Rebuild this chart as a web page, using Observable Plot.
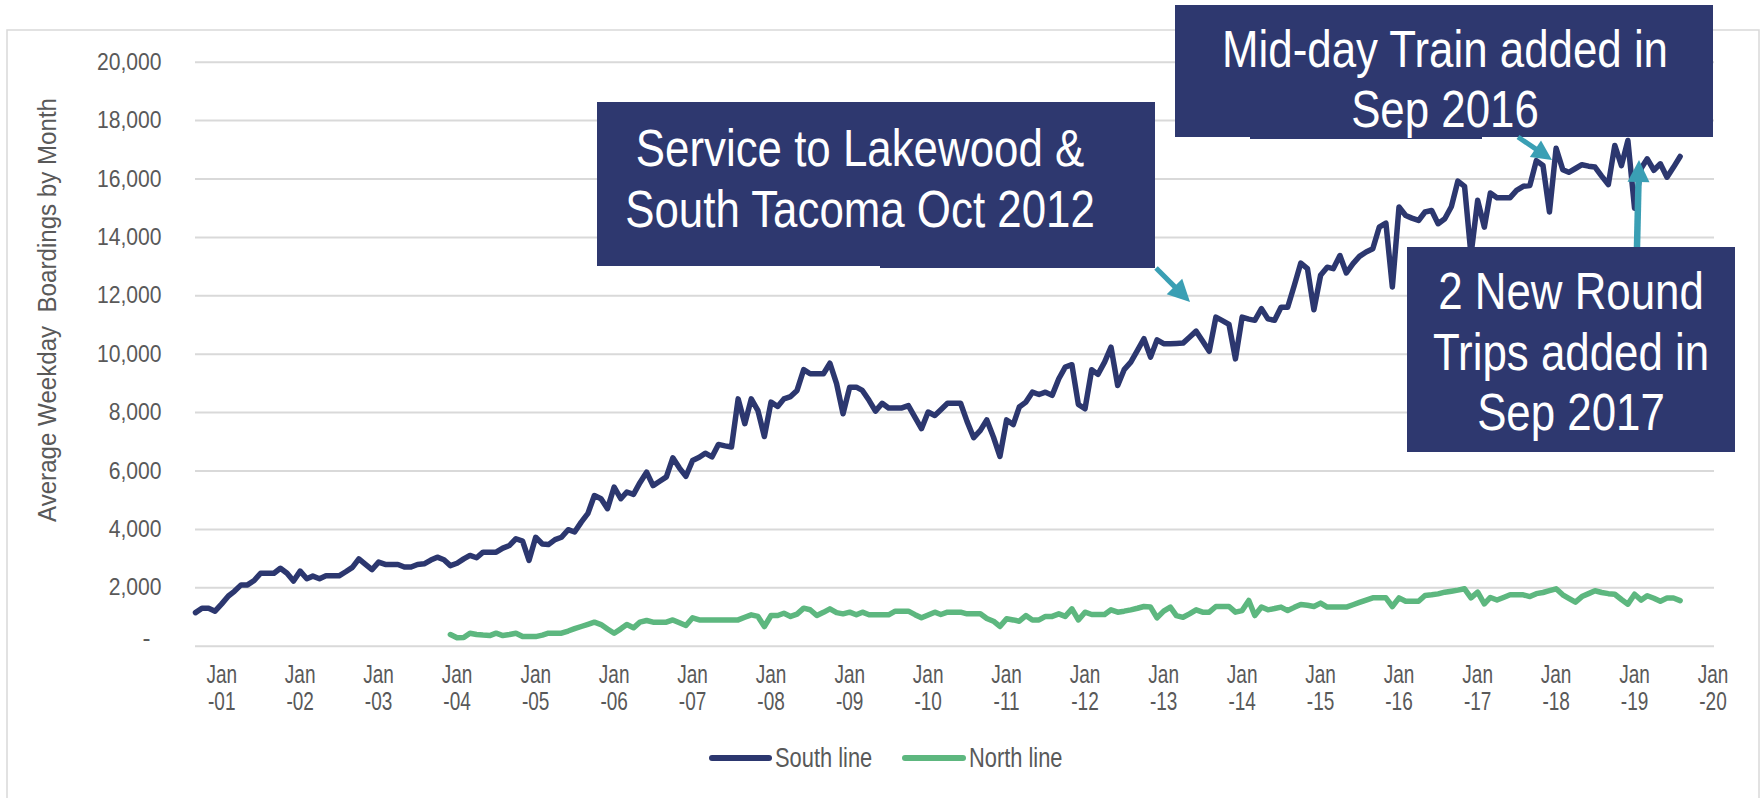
<!DOCTYPE html>
<html>
<head>
<meta charset="utf-8">
<script src="https://cdn.jsdelivr.net/npm/d3@7"></script>
<script src="https://cdn.jsdelivr.net/npm/@observablehq/plot@0.6"></script>
<style>
html, body { margin: 0; padding: 0; background: #ffffff; overflow: hidden; }
#chart svg { display: block; }
</style>
</head>
<body>
<div id="chart"></div>
<script>
// ---------------- DATA ----------------
// Average weekday boardings by month, South line (first month: Sep 2000)
const southStart = [2000, 8];
const southValues = [
  1150, 1300, 1300, 1200,
  1450, 1720, 1880, 2100, 2100, 2250, 2500, 2500, 2500, 2670, 2500, 2230,
  2570, 2310, 2400, 2310, 2410, 2410, 2410, 2550, 2700, 2990, 2800, 2620,
  2880, 2800, 2800, 2800, 2710, 2710, 2800, 2820, 2950, 3050, 2960, 2760,
  2840, 2990, 3110, 3030, 3220, 3220, 3220, 3360, 3450, 3680, 3600, 2940,
  3730, 3500, 3480, 3650, 3730, 3990, 3910, 4250, 4550, 5160, 5050, 4710,
  5450, 5050, 5280, 5200, 5600, 5960, 5500, 5650, 5800, 6450, 6100, 5820,
  6360, 6470, 6610, 6480, 6910, 6860, 6820, 8470, 7620, 8470, 8070, 7180,
  8360, 8210, 8470, 8550, 8760, 9470, 9330, 9330, 9330, 9690, 8990, 7960,
  8870, 8870, 8760, 8420, 8050, 8320, 8160, 8160, 8160, 8240, 7840, 7450,
  8020, 7900, 8100, 8320, 8320, 8320, 7700, 7140, 7390, 7750, 7160, 6500,
  7750, 7590, 8190, 8360, 8700, 8620, 8700, 8590, 9160, 9560, 9640, 8280,
  8130, 9470, 9310, 9730, 10240, 8930, 9470, 9730, 10130, 10530, 9900, 10490,
  10360, 10360, 10370, 10380, 10580, 10790, 10450, 10100, 11270, 11150, 11020, 9840,
  11270, 11200, 11160, 11560, 11210, 11160, 11610, 11610, 12360, 13120, 12930, 11520,
  12700, 12980, 12930, 13380, 12780, 13100, 13350, 13500, 13610, 14350, 14490, 12300,
  15040, 14750, 14660, 14580, 14870, 14920, 14470, 14640, 15060, 15930, 15750, 13400,
  15270, 14350, 15520, 15360, 15360, 15360, 15610, 15750, 15780, 16630, 16460, 14870,
  17050, 16320, 16230, 16360, 16490, 16440, 16410, 16100, 15810, 17150, 16460, 17320,
  15000, 16370, 16690, 16300, 16520, 16060, 16400, 16770
];
// North line (first month: Dec 2003)
const northStart = [2003, 11];
const northValues = [
  400,
  290, 300, 445, 400, 380, 365, 445, 365, 400, 445, 330, 330,
  330, 380, 445, 445, 445, 520, 600, 675, 750, 822, 740, 590,
  445, 594, 740, 630, 822, 880, 822, 822, 822, 900, 800, 708,
  972, 900, 900, 900, 900, 900, 900, 900, 990, 1075, 1020, 675,
  1050, 1050, 1130, 1020, 1100, 1302, 1250, 1050, 1160, 1280, 1150, 1108,
  1165, 1075, 1165, 1075, 1075, 1075, 1075, 1200, 1200, 1200, 1080, 972,
  1070, 1165, 1085, 1165, 1165, 1165, 1108, 1108, 1108, 950, 856, 675,
  938, 900, 856, 1050, 900, 900, 1020, 1020, 1108, 1020, 1280, 900,
  1165, 1085, 1085, 1085, 1245, 1165, 1200, 1245, 1300, 1360, 1340, 972,
  1200, 1340, 1050, 990, 1108, 1245, 1165, 1165, 1360, 1360, 1360, 1165,
  1220, 1565, 1050, 1340, 1245, 1290, 1340, 1220, 1330, 1430, 1400, 1360,
  1475, 1340, 1340, 1340, 1340, 1420, 1500, 1580, 1656, 1656, 1656, 1360,
  1656, 1540, 1540, 1540, 1736, 1760, 1792, 1850, 1885, 1920, 1966, 1656,
  1850, 1450, 1670, 1580, 1670, 1760, 1760, 1760, 1700, 1800, 1840, 1900,
  1965, 1760, 1640, 1510, 1700, 1800, 1900, 1840, 1800, 1780, 1600, 1440,
  1780, 1580, 1730, 1640, 1540, 1650, 1650, 1560
];
const seriesNames = ["South line", "North line"];
const seriesColors = ["#2c376f", "#5db77f"];
const yTicks = [2000, 4000, 6000, 8000, 10000, 12000, 14000, 16000, 18000, 20000];
const zeroLabel = "-";
const xTickYears = [2001, 2002, 2003, 2004, 2005, 2006, 2007, 2008, 2009, 2010,
                    2011, 2012, 2013, 2014, 2015, 2016, 2017, 2018, 2019, 2020];
const xTickMonth = "Jan";
const yLabel = "Average Weekday  Boardings by Month";
const note1 = ["Service to Lakewood &", "South Tacoma Oct 2012"];
const note2 = ["Mid-day Train added in", "Sep 2016"];
const note3 = ["2 New Round", "Trips added in", "Sep 2017"];

// ---------------- BUILD ----------------
const FONT = "'Liberation Sans', Arial, Helvetica, sans-serif";
const NAVY = "#2e386f", TEAL = "#3a9fb4", GREY = "#595959", GRID = "#d9d9d9";
function rows(start, values, series) {
  return values.map((v, i) => ({date: new Date(Date.UTC(start[0], start[1] + i, 1)), value: v, series}));
}
const south = rows(southStart, southValues, seriesNames[0]);
const north = rows(northStart, northValues, seriesNames[1]);
const tickDates = xTickYears.map(y => new Date(Date.UTC(y, 0, 1)));

const W = 1761, H = 798;
const plot = Plot.plot({
  width: W, height: H,
  marginLeft: 195, marginRight: 47, marginTop: 61.7, marginBottom: 152.3,
  style: {fontFamily: FONT, fontSize: "24px", color: GREY, background: "transparent", overflow: "visible"},
  x: {type: "utc", domain: [new Date(Date.UTC(2000, 8, 1)), new Date(Date.UTC(2020, 0, 8))]},
  y: {domain: [0, 20000]},
  marks: [
    Plot.ruleY([0, ...yTicks], {stroke: GRID, strokeWidth: 2}),
    Plot.axisY({ticks: yTicks, tickSize: 0, tickPadding: 34, tickFormat: d3.format(","), fontSize: 24, label: null}),
    Plot.text([zeroLabel], {text: d => d, frameAnchor: "bottom-left", dx: -45, textAnchor: "end", fontSize: 24, fill: GREY}),
    Plot.axisX({ticks: tickDates, tickSize: 0, tickPadding: 19, tickFormat: () => xTickMonth, fontSize: 25, label: null}),
    Plot.axisX({ticks: tickDates, tickSize: 0, tickPadding: 46, tickFormat: d => "-" + String(d.getUTCFullYear()).slice(2), fontSize: 25, label: null}),
    Plot.line(south, {x: "date", y: "value", stroke: seriesColors[0], strokeWidth: 5.5, strokeLinejoin: "round", strokeLinecap: "round"}),
    Plot.line(north, {x: "date", y: "value", stroke: seriesColors[1], strokeWidth: 5.5, strokeLinejoin: "round", strokeLinecap: "round"})
  ]
});
document.getElementById("chart").appendChild(plot);
const svgNode = plot.tagName.toLowerCase() === "svg" ? plot : plot.querySelector("svg");

// horizontally condense library-drawn texts (the reference lettering is narrow)
function condense(selector, f) {
  svgNode.querySelectorAll(selector).forEach(t => {
    const len = t.getComputedTextLength();
    if (len > 0) {
      t.setAttribute("textLength", (len * f).toFixed(2));
      t.setAttribute("lengthAdjust", "spacingAndGlyphs");
    }
  });
}
condense('g[aria-label="y-axis tick label"] text', 0.88);
condense('g[aria-label="x-axis tick label"] text', 0.76);

const svg = d3.select(svgNode);
// outer chart border
svg.insert("rect", ":first-child")
  .attr("x", 7).attr("y", 30).attr("width", 1752).attr("height", 820)
  .attr("fill", "none").attr("stroke", GRID).attr("stroke-width", 1.5);

// y-axis title
svg.append("text")
  .attr("transform", "translate(56,310) rotate(-90)")
  .attr("text-anchor", "middle").attr("font-family", FONT).attr("font-size", 25)
  .attr("fill", GREY).attr("textLength", 424).attr("lengthAdjust", "spacingAndGlyphs")
  .style("white-space", "pre")
  .text(yLabel);

// legend
const legendPos = [{x1: 712, x2: 769, tx: 775}, {x1: 905, x2: 963, tx: 969}];
seriesNames.forEach((name, i) => {
  const p = legendPos[i];
  svg.append("line").attr("x1", p.x1).attr("x2", p.x2).attr("y1", 758).attr("y2", 758)
    .attr("stroke", seriesColors[i]).attr("stroke-width", 6).attr("stroke-linecap", "round");
  svg.append("text").attr("transform", `translate(${p.tx},767) scale(0.81,1)`)
    .attr("text-anchor", "start")
    .attr("font-family", FONT).attr("font-size", 27).attr("fill", GREY).text(name);
});

// annotation boxes
function box(rects, lines, cx, baselines) {
  rects.forEach(r => svg.append("rect").attr("x", r[0]).attr("y", r[1])
    .attr("width", r[2] - r[0]).attr("height", r[3] - r[1]).attr("fill", NAVY));
  lines.forEach((s, i) => svg.append("text")
    .attr("transform", `translate(${cx},${baselines[i]}) scale(0.86,1)`)
    .attr("text-anchor", "middle").attr("font-family", FONT).attr("font-size", 51)
    .attr("fill", "#ffffff").text(s));
}
box([[597, 102, 1155, 266], [880, 250, 1155, 268]], note1, 860, [165.7, 226.7]);
box([[1175, 5, 1713, 137], [1250, 130, 1482, 139]], note2, 1445, [66.7, 126.7]);
box([[1407, 247, 1735, 452]], note3, 1571, [309.3, 370, 430]);

// arrows
function arrow(x1, y1, x2, y2, w, hl, hw) {
  const dx = x2 - x1, dy = y2 - y1, L = Math.hypot(dx, dy), ux = dx / L, uy = dy / L;
  const bx = x2 - ux * hl, by = y2 - uy * hl, px = -uy, py = ux;
  svg.append("line").attr("x1", x1).attr("y1", y1).attr("x2", bx + ux * 2).attr("y2", by + uy * 2)
    .attr("stroke", TEAL).attr("stroke-width", w);
  svg.append("polygon")
    .attr("points", `${x2},${y2} ${bx + px * hw},${by + py * hw} ${bx - px * hw},${by - py * hw}`)
    .attr("fill", TEAL);
}
arrow(1156, 268, 1190, 302, 5, 22, 11);
arrow(1518, 137, 1552, 160, 5, 20, 10);
arrow(1637, 247, 1639, 160, 6.5, 22, 11);
</script>
</body>
</html>
